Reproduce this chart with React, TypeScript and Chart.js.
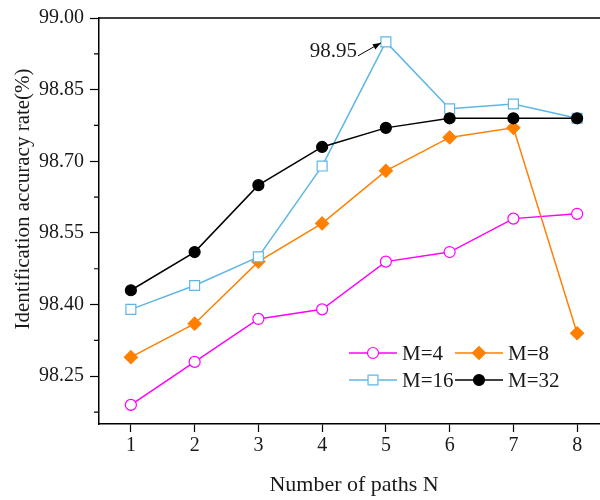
import React, { useEffect, useRef } from "react";
import { Chart, registerables } from "chart.js";

Chart.register(...registerables);

// ---- data ----
const nPaths = [1, 2, 3, 4, 5, 6, 7, 8];
const m4 = [98.19, 98.28, 98.37, 98.39, 98.49, 98.51, 98.58, 98.59];
const m8 = [98.29, 98.36, 98.49, 98.57, 98.68, 98.75, 98.77, 98.34];
const m16 = [98.39, 98.44, 98.5, 98.69, 98.95, 98.81, 98.82, 98.79];
const m32 = [98.43, 98.51, 98.65, 98.73, 98.77, 98.79, 98.79, 98.79];
const seriesLabels = ["M=4", "M=8", "M=16", "M=32"];
const yTicks = [98.25, 98.4, 98.55, 98.7, 98.85, 99.0];
const yMinorTicks = [98.175, 98.325, 98.475, 98.625, 98.775, 98.925];
const yMin = 98.15;
const yMax = 99.0;
const xMin = 0.5;
const xMax = 8.5;
const annotX = 5;
const annotY = 98.95;
const annotText = "98.95";
const xTitle = "Number of paths N";
const yTitle = "Identification accuracy rate(%)";

const FONT = "'Liberation Serif', 'Times New Roman', serif";
const TEXT = "#1a1a1a";

const styles = [
  { color: "#ff00ff", style: "circle", radius: 5.5, fill: "#ffffff" },
  { color: "#ff8000", style: "rectRot", radius: 6.5, fill: "#ff8000" },
  { color: "#5fb6e6", style: "rect", radius: 7, fill: "#ffffff" },
  { color: "#000000", style: "circle", radius: 5.5, fill: "#000000" },
];
const seriesValues = [m4, m8, m16, m32];

const decorPlugin = {
  id: "decor",
  afterDraw(chart: any) {
    const { ctx, chartArea, scales } = chart;
    const xs = scales.x;
    const ys = scales.y;
    ctx.save();
    // frame top and right
    ctx.strokeStyle = "#000";
    ctx.lineWidth = 1.5;
    ctx.beginPath();
    ctx.moveTo(chartArea.left, chartArea.top);
    ctx.lineTo(chartArea.right, chartArea.top);
    ctx.lineTo(chartArea.right, chartArea.bottom);
    ctx.stroke();
    // minor ticks
    ctx.lineWidth = 1.2;
    ctx.beginPath();
    yMinorTicks.forEach((v) => {
      const py = ys.getPixelForValue(v);
      ctx.moveTo(chartArea.left - 5, py);
      ctx.lineTo(chartArea.left, py);
    });
    ctx.stroke();

    // titles
    ctx.fillStyle = TEXT;
    ctx.textAlign = "center";
    ctx.textBaseline = "middle";
    ctx.font = `22px ${FONT}`;
    ctx.fillText(xTitle, (chartArea.left + chartArea.right) / 2, 485);
    ctx.save();
    ctx.translate(23, 199);
    ctx.rotate(-Math.PI / 2);
    ctx.font = `21px ${FONT}`;
    ctx.fillText(yTitle, 0, 0);
    ctx.restore();

    // annotation
    const px = xs.getPixelForValue(annotX);
    const py = ys.getPixelForValue(annotY);
    ctx.font = `21px ${FONT}`;
    ctx.textAlign = "right";
    ctx.fillText(annotText, px - 29, py + 10);
    const sx = px - 28, sy = py + 14, ex = px - 5, ey = py + 1;
    ctx.strokeStyle = "#000";
    ctx.lineWidth = 1;
    ctx.beginPath();
    ctx.moveTo(sx, sy);
    ctx.lineTo(ex, ey);
    ctx.stroke();
    const ang = Math.atan2(ey - sy, ex - sx);
    ctx.fillStyle = "#000";
    ctx.beginPath();
    ctx.moveTo(ex, ey);
    ctx.lineTo(ex - 8 * Math.cos(ang) + 3 * Math.sin(ang), ey - 8 * Math.sin(ang) - 3 * Math.cos(ang));
    ctx.lineTo(ex - 8 * Math.cos(ang) - 3 * Math.sin(ang), ey - 8 * Math.sin(ang) + 3 * Math.cos(ang));
    ctx.closePath();
    ctx.fill();

    // legend
    const cols = [349, 455];
    const rows = [353, 380];
    ctx.font = `21px ${FONT}`;
    ctx.textAlign = "left";
    ctx.textBaseline = "middle";
    seriesLabels.forEach((lab, i) => {
      const cx = cols[i % 2];
      const cy = rows[Math.floor(i / 2)];
      const st = styles[i];
      ctx.strokeStyle = st.color;
      ctx.lineWidth = 1.5;
      ctx.beginPath();
      ctx.moveTo(cx, cy);
      ctx.lineTo(cx + 48, cy);
      ctx.stroke();
      ctx.fillStyle = st.fill;
      (Chart as any).helpers?.drawPoint;
      drawMarker(ctx, st.style, st.radius, cx + 24, cy, st.fill, st.color);
      ctx.fillStyle = TEXT;
      ctx.fillText(lab, cx + 53, cy + 1);
    });
    ctx.restore();
  },
};

function drawMarker(ctx: CanvasRenderingContext2D, style: string, r: number, x: number, y: number, fill: string, stroke: string) {
  ctx.save();
  ctx.beginPath();
  if (style === "circle") {
    ctx.arc(x, y, r, 0, Math.PI * 2);
  } else if (style === "rect") {
    const s = Math.SQRT1_2 * r;
    ctx.rect(x - s, y - s, 2 * s, 2 * s);
  } else {
    ctx.moveTo(x - r, y);
    ctx.lineTo(x, y - r);
    ctx.lineTo(x + r, y);
    ctx.lineTo(x, y + r);
    ctx.closePath();
  }
  ctx.fillStyle = fill;
  ctx.fill();
  ctx.strokeStyle = stroke;
  ctx.lineWidth = 1.2;
  ctx.stroke();
  ctx.restore();
}

export default function App() {
  const ref = useRef<HTMLCanvasElement>(null);
  useEffect(() => {
    if (!ref.current) return;
    const datasets = seriesLabels.map((lab, i) => ({
      label: lab,
      data: nPaths.map((n, j) => ({ x: n, y: seriesValues[i][j] })),
      borderColor: styles[i].color,
      backgroundColor: styles[i].fill,
      pointBackgroundColor: styles[i].fill,
      pointBorderColor: styles[i].color,
      pointStyle: styles[i].style,
      pointRadius: styles[i].radius,
      pointBorderWidth: 1.2,
      borderWidth: 1.5,
      tension: 0,
      order: 3 - i,
    }));
    const chart = new Chart(ref.current, {
      type: "line",
      data: { datasets },
      plugins: [decorPlugin],
      options: {
        responsive: false,
        animation: false,
        layout: { padding: { left: 0, top: 14, right: 11, bottom: 0 }, autoPadding: false },
        plugins: { legend: { display: false }, tooltip: { enabled: false } },
        scales: {
          x: {
            type: "linear",
            min: xMin,
            max: xMax,
            afterBuildTicks: (s: any) => {
              s.ticks = nPaths.map((v) => ({ value: v }));
            },
            afterFit: (s: any) => {
              s.height = 76;
            },
            ticks: {
              font: { family: FONT, size: 20 },
              color: TEXT,
              padding: 2,
              maxRotation: 0,
              callback: (v: any) => String(v),
            },
            grid: { drawOnChartArea: false, tickLength: 8, tickWidth: 1.2, tickColor: "#000" },
            border: { color: "#000", width: 1.5 },
          },
          y: {
            type: "linear",
            min: yMin,
            max: yMax,
            afterBuildTicks: (s: any) => {
              s.ticks = yTicks.map((v) => ({ value: v }));
            },
            afterFit: (s: any) => {
              s.width = 99;
            },
            ticks: {
              font: { family: FONT, size: 20 },
              color: TEXT,
              padding: 6,
              callback: (v: any) => Number(v).toFixed(2),
            },
            grid: { drawOnChartArea: false, tickLength: 9, tickWidth: 1.2, tickColor: "#000" },
            border: { color: "#000", width: 1.5 },
          },
        },
      } as any,
    });
    return () => chart.destroy();
  }, []);
  return (
    <div style={{ position: "fixed", left: 0, top: 0, width: 600, height: 500, overflow: "hidden", background: "#fff" }}>
      <canvas ref={ref} width={620} height={500} style={{ display: "block", width: 620, height: 500 }} />
    </div>
  );
}
